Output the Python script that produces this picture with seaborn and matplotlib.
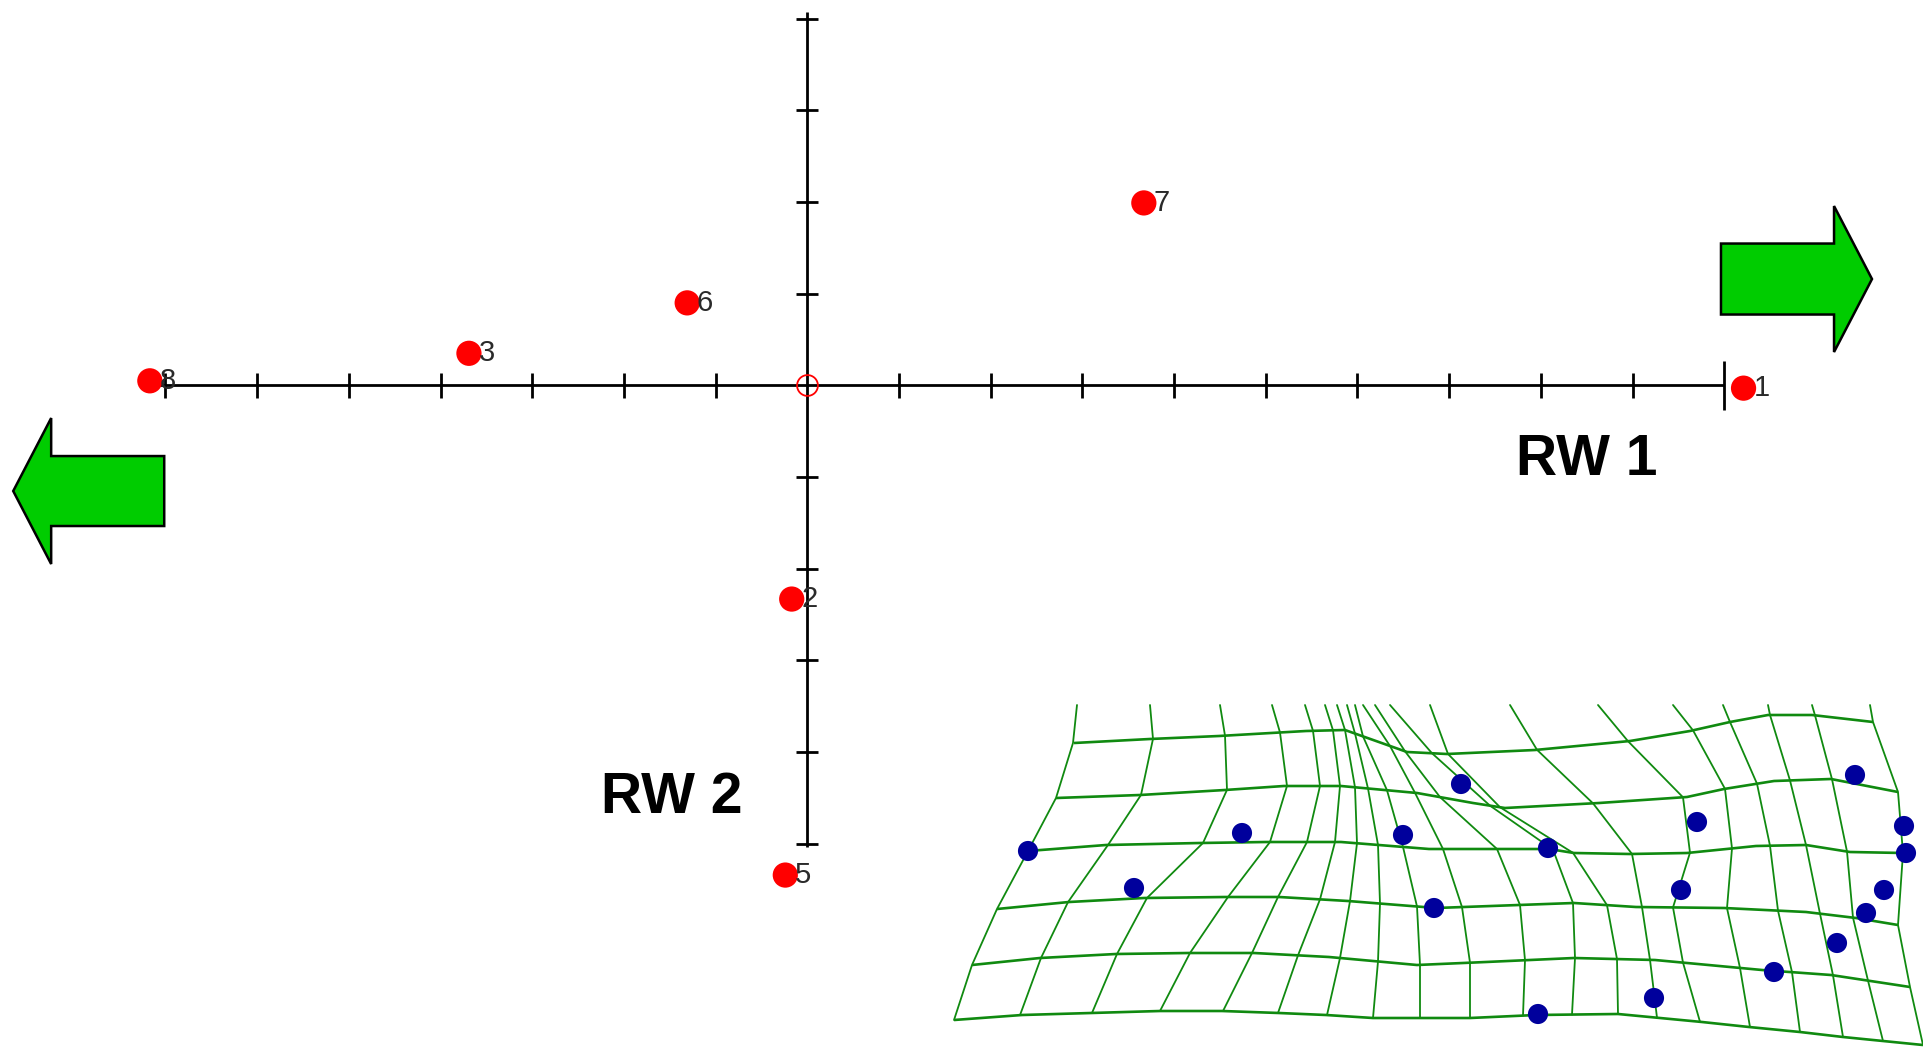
import numpy as np
import pandas as pd
import seaborn as sns
import matplotlib.pyplot as plt
from matplotlib.patches import FancyArrow

# relative warp scores of the specimens
spec_id = ['1', '2', '3', '5', '6', '7', '8']
rw1 = [10.21, -0.17, -3.69, -0.24, -1.31, 3.67, -7.17]
rw2 = [-0.03, -2.33, 0.35, -5.34, 0.90, 1.99, 0.05]

x_ticks = np.arange(-7, 11)
y_ticks = np.arange(-5, 5)

# deformation grid (image coordinates): horizontal lines
row1_x = [1074, 1150, 1219, 1271, 1306, 1345, 1407, 1447, 1535, 1630, 1690, 1730, 1768, 1812, 1873]
row1_y = [743, 739, 736, 733, 731, 730, 752, 754, 750, 741, 731, 722, 715, 715, 722]
row2_x = [1056, 1140, 1225, 1284, 1341, 1417, 1473, 1505, 1599, 1687, 1724, 1774, 1831, 1898]
row2_y = [798, 795, 790, 786, 786, 793, 803, 808, 803, 797, 789, 781, 779, 792]
row3_x = [1028, 1106, 1200, 1266, 1341, 1429, 1549, 1574, 1630, 1687, 1756, 1806, 1850, 1903]
row3_y = [851, 845, 843, 842, 842, 849, 849, 853, 854, 853, 846, 845, 852, 853]
row4_x = [997, 1069, 1144, 1225, 1279, 1348, 1436, 1574, 1636, 1724, 1806, 1856, 1898]
row4_y = [909, 902, 898, 897, 897, 901, 908, 903, 907, 908, 912, 918, 925]
row5_x = [972, 1040, 1116, 1188, 1254, 1329, 1417, 1486, 1574, 1655, 1762, 1831, 1910]
row5_y = [965, 958, 954, 953, 953, 957, 965, 962, 958, 960, 970, 975, 987]
row6_x = [954, 1022, 1091, 1160, 1222, 1279, 1326, 1373, 1470, 1536, 1618, 1702, 1749, 1800, 1843, 1923]
row6_y = [1020, 1015, 1013, 1011, 1011, 1013, 1015, 1018, 1018, 1015, 1014, 1022, 1027, 1032, 1037, 1045]
top_y = 705

# vertical lines: x where each one meets the top edge and rows 1..6
col_x = [
    [1077, 1073, 1056, 1028, 997, 972, 954],
    [1150, 1153, 1141, 1108, 1068, 1041, 1020],
    [1220, 1225, 1227, 1203, 1147, 1117, 1092],
    [1272, 1280, 1287, 1270, 1228, 1190, 1160],
    [1305, 1313, 1320, 1307, 1278, 1252, 1223],
    [1325, 1333, 1340, 1335, 1320, 1298, 1278],
    [1337, 1345, 1355, 1357, 1350, 1340, 1327],
    [1347, 1355, 1368, 1378, 1380, 1378, 1373],
    [1355, 1363, 1387, 1403, 1417, 1420, 1420],
    [1363, 1390, 1415, 1443, 1462, 1470, 1470],
    [1375, 1405, 1440, 1497, 1520, 1525, 1523],
    [1390, 1432, 1490, 1553, 1573, 1575, 1572],
    [1430, 1448, 1500, 1573, 1607, 1617, 1618],
    [1510, 1537, 1593, 1632, 1642, 1650, 1657],
    [1598, 1628, 1683, 1690, 1673, 1683, 1700],
    [1673, 1693, 1725, 1732, 1727, 1740, 1750],
    [1723, 1730, 1757, 1770, 1778, 1792, 1800],
    [1768, 1770, 1790, 1806, 1820, 1833, 1843],
    [1812, 1815, 1832, 1847, 1853, 1868, 1883],
    [1870, 1873, 1898, 1903, 1898, 1910, 1923],
]

# landmarks of the warped configuration
lm_x = [1028, 1134, 1242, 1403, 1434, 1461, 1548, 1697, 1681, 1654, 1538,
        1855, 1904, 1906, 1884, 1866, 1837, 1774]
lm_y = [851, 888, 833, 835, 908, 784, 848, 822, 890, 998, 1014,
        775, 826, 853, 890, 913, 943, 972]

sns.set_style("white")
plt.rcParams['font.family'] = ['Liberation Sans', 'DejaVu Sans']

fig = plt.figure(figsize=(19.24, 10.47), dpi=100)

# warp grid panel
ax2 = fig.add_axes([0, 0, 1, 1])
green = '#108a10'
rows = [(row1_x, row1_y), (row2_x, row2_y), (row3_x, row3_y),
        (row4_x, row4_y), (row5_x, row5_y), (row6_x, row6_y)]
for rx, ry in rows:
    ax2.plot(rx, ry, color=green, lw=1.9, solid_capstyle='butt')
for cx in col_x:
    cy = [top_y] + [np.interp(cx[i + 1], rows[i][0], rows[i][1]) for i in range(6)]
    ax2.plot(cx, cy, color=green, lw=1.3)
lm = pd.DataFrame({'x': lm_x, 'y': lm_y})
sns.scatterplot(data=lm, x='x', y='y', ax=ax2, color='#00009c', s=210,
                edgecolor='none', zorder=5)
ax2.set_xlim(0, 1924)
ax2.set_ylim(1047, 0)
ax2.axis('off')

# ordination plot
ax = fig.add_axes([0, 0, 1, 1])
ax.patch.set_visible(False)

ax.hlines(0, x_ticks[0] - 0.15, x_ticks[-1], color='black', lw=2)
ax.vlines(0, y_ticks[0] - 0.03, y_ticks[-1] + 0.07, color='black', lw=2)
xt = x_ticks[x_ticks != 0]
yt = y_ticks[y_ticks != 0]
ax.vlines(xt[:-1], -0.14, 0.14, color='black', lw=2)
ax.vlines(xt[-1:], -0.27, 0.27, color='black', lw=2)
ax.hlines(yt, -0.12, 0.12, color='black', lw=2)

scores = pd.DataFrame({'RW1': rw1, 'RW2': rw2, 'id': spec_id})
sns.scatterplot(data=scores, x='RW1', y='RW2', ax=ax, color='#ff0000',
                s=330, edgecolor='none', zorder=4)
ax.plot(0, 0, 'o', mfc='none', mec='#ff0000', ms=15, mew=1.3, zorder=4)
for _, r in scores.iterrows():
    ax.annotate(r['id'], (r['RW1'], r['RW2']), xytext=(7, 0),
                textcoords='offset points', ha='left', va='center',
                fontsize=21, color='#2a2a2a', zorder=5)
ax.set_xlim(-8.804, 12.178)
ax.set_ylim(-7.215, 4.203)
ax.axis('off')

ax.text(8.50, -0.81, 'RW 1', ha='center', va='center', fontsize=41,
        fontweight='bold', color='black')
ax.text(-1.475, -4.50, 'RW 2', ha='center', va='center', fontsize=41,
        fontweight='bold', color='black')

# direction arrows
ax.add_patch(FancyArrow(9.964, 1.160, 1.647, 0, width=0.774, head_width=1.592,
                        head_length=0.414, length_includes_head=True,
                        facecolor='#00cc00', edgecolor='black', lw=1.8))
ax.add_patch(FancyArrow(-7.013, -1.152, -1.647, 0, width=0.763, head_width=1.592,
                        head_length=0.414, length_includes_head=True,
                        facecolor='#00cc00', edgecolor='black', lw=1.8))

fig.savefig('out.png', dpi=100)
